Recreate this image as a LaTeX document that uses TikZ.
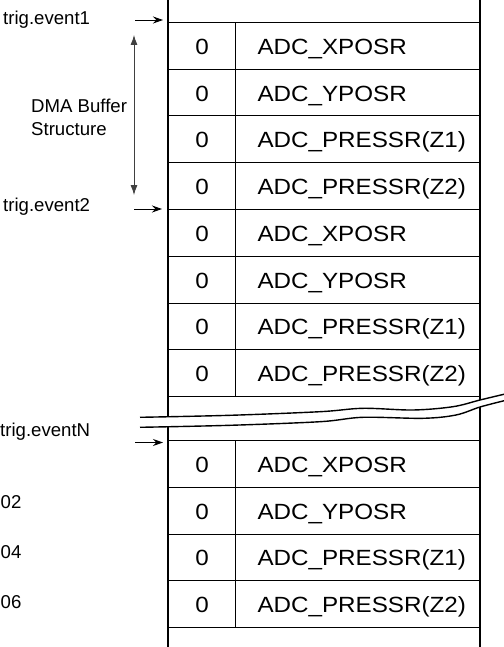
\documentclass[tikz,border=0pt]{standalone}
\usepackage{fontspec}
\setmainfont{Liberation Sans}
\newfontfamily\cellfont[FakeStretch=1.1]{Liberation Sans}
\usetikzlibrary{arrows.meta}

\begin{document}
\begin{tikzpicture}[x=1pt, y=-1pt, >=Stealth,
        every node/.style={inner sep=0pt, font=\fontsize{18.6}{23}\selectfont},
        valcell/.style={draw, line width=1pt, anchor=north west, minimum width=67pt, minimum height=46.75pt,
            text height=20pt, text depth=3pt, font=\cellfont\fontsize{22}{26}\selectfont},
        regcell/.style={valcell, minimum width=245pt, text width=201pt, align=left},
        rail/.style={line width=2pt},
        trig/.style={->, line width=0.9pt, >={Stealth[length=10pt, width=7pt]}},
        span/.style={<->, line width=0.8pt, black!75, >={Latex[length=10pt, width=7pt]}},
        wave/.style={line width=1.4pt, smooth, tension=0.55}]
                \useasboundingbox (0,0) rectangle (503,647);

                \draw[rail] (168,0) -- (168,647);
                \draw[rail] (480,0) -- (480,647);

                \foreach \reg [count=\i] in {ADC\_XPOSR, ADC\_YPOSR, ADC\_PRESSR(Z1), ADC\_PRESSR(Z2),
                        ADC\_XPOSR, ADC\_YPOSR, ADC\_PRESSR(Z1), ADC\_PRESSR(Z2)} {
                    \node[valcell] (v\i) at (168, 22+46.75*\i-46.75) {0};
                    \node[regcell] (r\i) at (235, 22+46.75*\i-46.75) {\reg};
                }
                \foreach \reg [count=\i] in {ADC\_XPOSR, ADC\_YPOSR, ADC\_PRESSR(Z1), ADC\_PRESSR(Z2)} {
                    \node[valcell] (vb\i) at (168, 440+46.75*\i-46.75) {0};
                    \node[regcell] (rb\i) at (235, 440+46.75*\i-46.75) {\reg};
                }

                \fill[white] plot[smooth, tension=0.55] coordinates {(140,417.3) (230,415.3) (320,411.7) (363,408.3)
                        (413,410) (453,406.7) (480,400) (505,394)}
                    -- plot[smooth, tension=0.55] coordinates {(505,400.5) (480,407) (456,415) (423,418.3)
                        (363,417.3) (320,421.7) (230,425.3) (140,427.3)} -- cycle;
                \draw[wave] plot coordinates {(140,417.3) (230,415.3) (320,411.7) (363,408.3)
                        (413,410) (453,406.7) (480,400) (505,394)};
                \draw[wave] plot coordinates {(140,427.3) (230,425.3) (320,421.7) (363,417.3)
                        (423,418.3) (456,415) (480,407) (505,400.5)};

                \node[anchor=base west] (ev1) at (3,25) {trig.event1};
                \node[anchor=base west] (ev2) at (3,211.7) {trig.event2};
                \node[anchor=base west] (evN) at (0,436.7) {trig.eventN};
                \node[anchor=west, align=left] (dma) at (31,117) {DMA Buffer\\Structure};
                \node[anchor=base west] (n2) at (0.5,508.3) {02};
                \node[anchor=base west] (n4) at (0.5,558.3) {04};
                \node[anchor=base west] (n6) at (0.5,608.3) {06};

                \draw[trig] ([xshift=-33pt, yshift=2pt]v1.north west) -- ([xshift=-5pt, yshift=2pt]v1.north west);
                \draw[trig] ([xshift=-34pt]v5.north west) -- ([xshift=-6pt]v5.north west);
                \draw[trig] ([xshift=-33pt, yshift=-2.5pt]vb1.north west) -- ([xshift=-5pt, yshift=-2.5pt]vb1.north west);

                \coordinate (spantop) at (134,35);
                \coordinate (spanbot) at (134,195);
                \draw[span] (spantop) -- (spanbot);
            \end{tikzpicture}
\end{document}
